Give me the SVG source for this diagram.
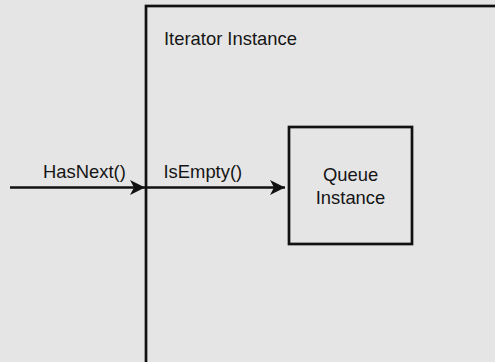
<svg xmlns="http://www.w3.org/2000/svg" width="495" height="362" viewBox="0 0 495 362">
  <style>
    .box { fill: #e5e5e5; stroke: #111; stroke-width: 2.7; }
    .lbl { font-family: "Liberation Sans", Arial, Helvetica, sans-serif; font-size: 18.4px; fill: #151515; }
    .conn { stroke: #111; stroke-width: 2.6; fill: none; }
  </style>
  <defs>
    <marker id="arrow" markerUnits="userSpaceOnUse" markerWidth="18" markerHeight="18" viewBox="-16 -9 18 18" refX="0" refY="0" orient="auto">
      <path d="M0,0 L-15,-7.5 L-11,0 L-15,7.5 Z" fill="#111"/>
    </marker>
  </defs>
  <rect width="495" height="362" fill="#e5e5e5"/>
  <g id="iterator">
    <rect class="box" x="146" y="6" width="400" height="400"/>
    <text class="lbl" x="164" y="44.5">Iterator Instance</text>
  </g>
  <g id="queue">
    <rect class="box" x="289" y="127" width="123" height="117"/>
    <text class="lbl" x="350.5" y="180.5" text-anchor="middle">Queue</text>
    <text class="lbl" x="350.5" y="203.5" text-anchor="middle">Instance</text>
  </g>
  <g id="connectors">
    <line class="conn" x1="10" y1="187.5" x2="145" y2="187.5" marker-end="url(#arrow)"/>
    <line class="conn" x1="146" y1="187.5" x2="285" y2="187.5" marker-end="url(#arrow)"/>
    <text class="lbl" x="43" y="178">HasNext()</text>
    <text class="lbl" x="163.5" y="178">IsEmpty()</text>
  </g>
</svg>
